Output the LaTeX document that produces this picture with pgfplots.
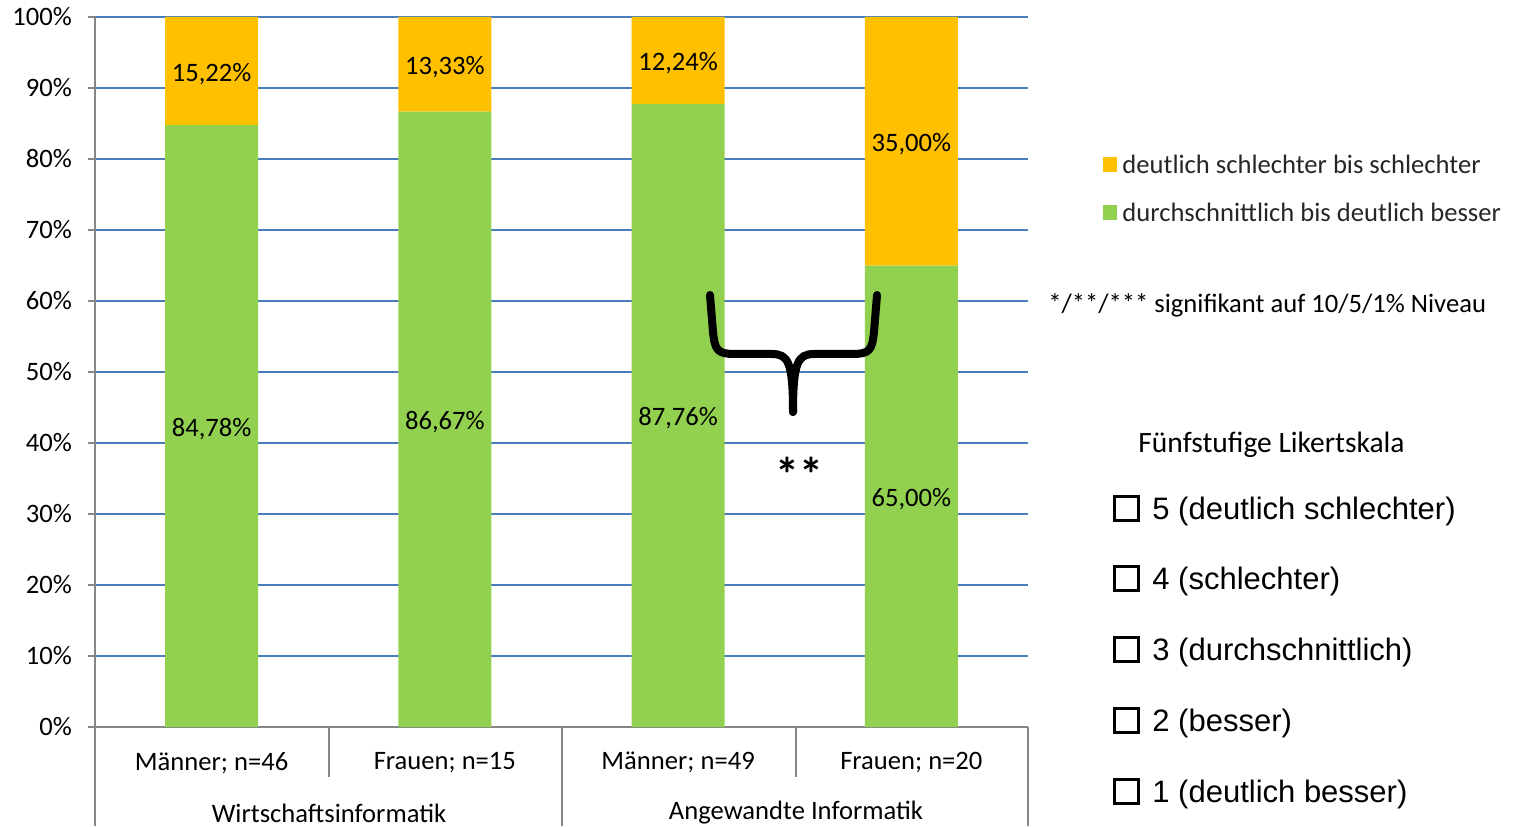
\documentclass[border=0pt]{standalone}
\usepackage{fontspec}
\setmainfont{Carlito}
\newfontfamily\arialfont{Liberation Sans}
\usepackage{pgfplots}
\pgfplotsset{compat=1.18}
\usepackage{pgfplotstable}

\definecolor{barGreen}{HTML}{92D050}
\definecolor{barOrange}{HTML}{FFC000}
\definecolor{gridBlue}{HTML}{4A7EBB}
\definecolor{axisGray}{HTML}{868686}

% share of answers per group (percent)
\pgfplotstableread{
x besser schlechter
0 84.78 15.22
1 86.67 13.33
2 87.76 12.24
3 65.00 35.00
}\ratings

\newcommand\chartfont{\fontsize{13.3}{16}\selectfont}
\newcommand\likertfont{\arialfont\fontsize{15.5}{18}\selectfont}

\begin{document}
\begin{tikzpicture}
\begin{axis}[
  at={(47.5pt,49.5pt)}, anchor=south west,
  scale only axis, width=466.5pt, height=355pt,
  ybar stacked, bar width=46.5pt,
  xmin=-0.5, xmax=3.5, ymin=0, ymax=100,
  axis x line*=bottom, axis y line*=left,
  axis line style={axisGray, line width=1pt, -},
  xtick={0,1,2,3},
  xticklabels={Männer; n=46, Frauen; n=15, Männer; n=49, Frauen; n=20},
  xtick style={draw=none},
  xticklabel style={yshift=-5.5pt},
  ytick={0,10,...,100},
  yticklabels={0\%,10\%,20\%,30\%,40\%,50\%,60\%,70\%,80\%,90\%,100\%},
  yticklabel style={xshift=-4.5pt},
  ytick style={axisGray, line width=1pt},
  tick align=outside, major tick length=3.5pt,
  ymajorgrids, grid style={gridBlue, line width=1pt},
  tick label style={font=\chartfont, black},
  /pgf/number format/assume math mode=true,
  point meta=explicit,
  nodes near coords={\pgfmathprintnumber[fixed,fixed zerofill,precision=2,use comma]{\pgfplotspointmeta}\%},
  every node near coord/.append style={anchor=center, yshift=-1.5pt, font=\chartfont, black},
]
\addplot[fill=barGreen, draw=none] table[x=x, y=besser, meta=besser] {\ratings};
\addplot[fill=barOrange, draw=none] table[x=x, y=schlechter, meta=schlechter] {\ratings};
\end{axis}

% annotations, in pixel-like units from the top left corner
\begin{scope}[x=0.5pt, y=-0.5pt, yshift=413pt]
  % category separators below the axis
  \draw[axisGray, line width=1pt] (329,727) -- (329,777) (796,727) -- (796,777);
  \draw[axisGray, line width=1pt] (95,727) -- (95,826) (562,727) -- (562,826) (1028,727) -- (1028,826);
  \node[font=\chartfont] at (329,813) {Wirtschaftsinformatik};
  \node[font=\chartfont] at (796,813) {Angewandte Informatik};

  % significance brace
  \draw[line width=4pt, line cap=round, line join=round]
    (710,295) -- (713,332) .. controls (715,350) and (717,354) .. (735,354)
    -- (772,354) .. controls (788,354) and (793,362) .. (793,412);
  \draw[line width=4pt, line cap=round, line join=round]
    (877,295) -- (874,332) .. controls (872,350) and (870,354) .. (852,354)
    -- (814,354) .. controls (798,354) and (793,362) .. (793,412);
  \node[font=\fontsize{24}{28}\selectfont\bfseries] at (799,474) {**};

  % legend
  \fill[barOrange] (1103,157) rectangle (1117,172);
  \fill[barGreen] (1103,205) rectangle (1117,220);
  \node[anchor=west, inner sep=0pt, font=\chartfont, black!85] at (1122,164) {deutlich schlechter bis schlechter};
  \node[anchor=west, inner sep=0pt, font=\chartfont, black!85] at (1122,212) {durchschnittlich bis deutlich besser};

  \node[anchor=west, inner sep=0pt, font=\chartfont] at (1048,305) {*/**/*** signifikant auf 10/5/1\% Niveau};

  % answer scale
  \node[anchor=west, inner sep=0pt, font=\fontsize{14.75}{17}\selectfont] at (1138,445) {Fünfstufige Likertskala};
  \foreach \yy/\txt in {508/{5 (deutlich schlechter)}, 578/{4 (schlechter)}, 649/{3 (durchschnittlich)}, 720/{2 (besser)}, 791/{1 (deutlich besser)}} {
    \draw[line width=1.5pt] (1114,\yy-12) rectangle (1138,\yy+12);
    \node[anchor=west, inner sep=0pt, font=\likertfont] at (1152,\yy+3) {\txt};
  }

  \pgfresetboundingbox
  \path[use as bounding box] (0,0) rectangle (1521,826);
\end{scope}
\end{tikzpicture}
\end{document}
